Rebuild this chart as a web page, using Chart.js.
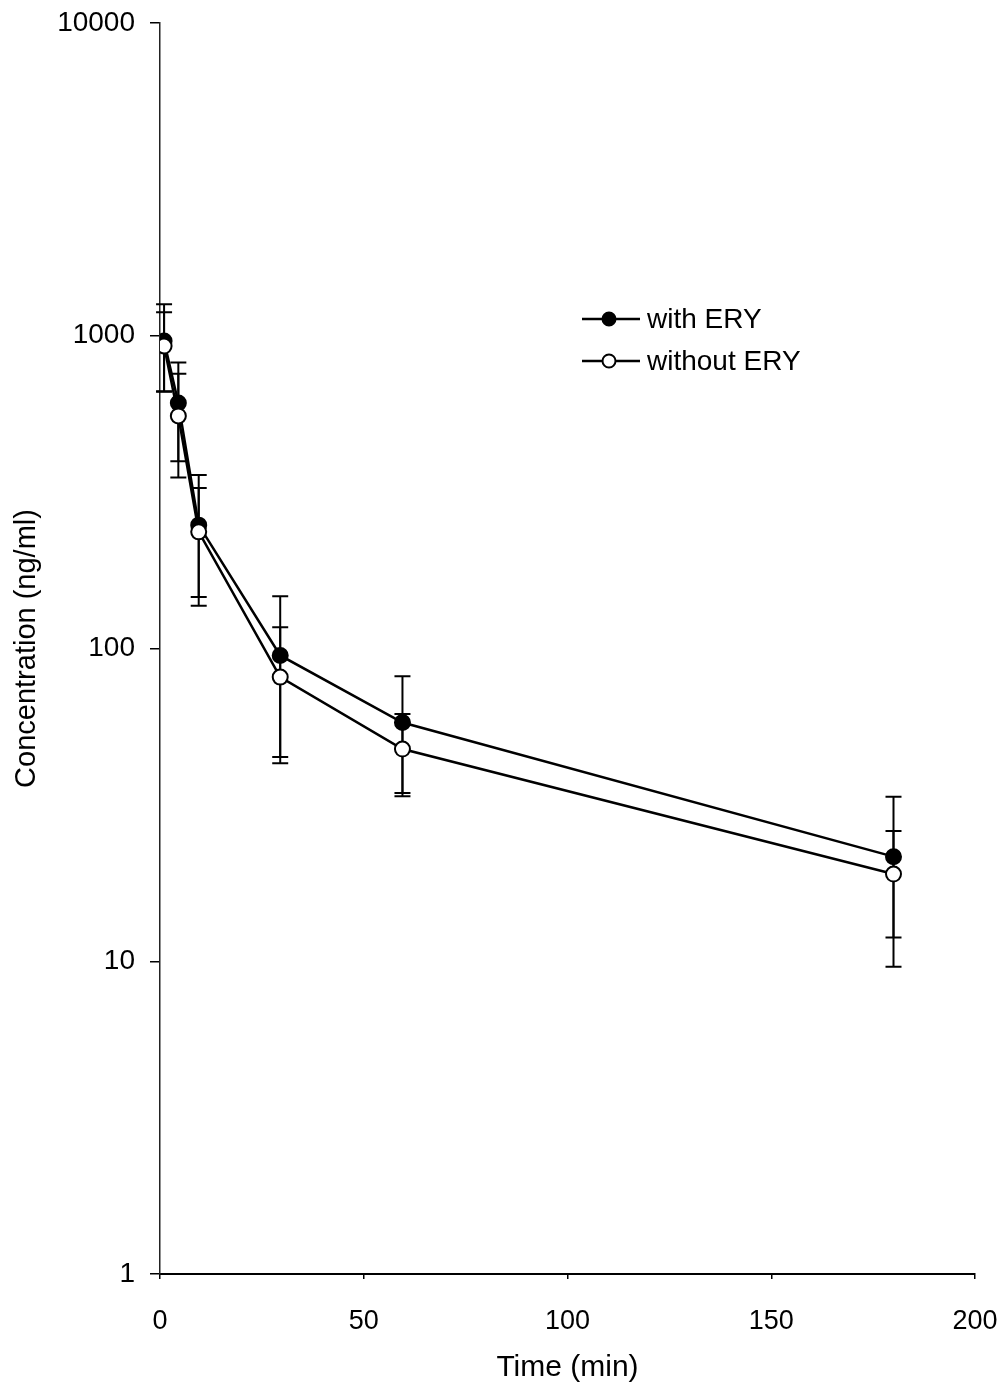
<!DOCTYPE html>
<html>
<head>
<meta charset="utf-8">
<script src="https://cdn.jsdelivr.net/npm/chart.js@4/dist/chart.umd.min.js"></script>
<style>
  html, body { margin: 0; padding: 0; background: #fff; }
  #wrap { width: 1005px; height: 1386px; }
</style>
</head>
<body>
<div id="wrap"><canvas id="c" width="1005" height="1386"></canvas></div>
<script>
// Sampling times (min)
const times = [1, 4.5, 9.5, 29.5, 59.5, 180];

// Mean concentration (ng/ml) and SD, with erythromycin
const withEry = [962, 609, 248, 95, 58, 21.6];
const withErySd = [300, 212, 111, 52, 23.5, 12];

// Mean concentration (ng/ml) and SD, without erythromycin
const withoutEry = [927, 554, 236, 81, 47.7, 19];
const withoutErySd = [262, 202, 90, 36, 14, 7.1];

const seriesLabels = ['with ERY', 'without ERY'];
const yTickValues = [1, 10, 100, 1000, 10000];
const xTickStep = 50;

const FONT = 'Liberation Sans, Arial, Helvetica, sans-serif';

function points(xs, ys) {
  return xs.map((x, i) => ({ x: x, y: ys[i] }));
}

// Vertical error bars (mean ± SD) with short horizontal caps
const errorBars = {
  id: 'errorBars',
  beforeDatasetsDraw(chart) {
    const ctx = chart.ctx;
    const xs = chart.scales.x, ys = chart.scales.y;
    const sets = [[withEry, withErySd], [withoutEry, withoutErySd]];
    ctx.save();
    ctx.strokeStyle = '#000';
    ctx.lineWidth = 2;
    const cap = 8;
    sets.forEach(([m, sd]) => {
      times.forEach((t, i) => {
        const px = xs.getPixelForValue(t);
        const hi = ys.getPixelForValue(m[i] + sd[i]);
        const lo = ys.getPixelForValue(Math.max(m[i] - sd[i], 1));
        ctx.beginPath();
        ctx.moveTo(px, hi); ctx.lineTo(px, lo);
        ctx.moveTo(px - cap, hi); ctx.lineTo(px + cap, hi);
        ctx.moveTo(px - cap, lo); ctx.lineTo(px + cap, lo);
        ctx.stroke();
      });
    });
    ctx.restore();
  }
};

// Legend drawn inside the plot area
const insideLegend = {
  id: 'insideLegend',
  afterDraw(chart) {
    const ctx = chart.ctx;
    const rows = [
      { y: 319, fill: '#000' },
      { y: 361, fill: '#fff' }
    ];
    ctx.save();
    rows.forEach((r, i) => {
      ctx.strokeStyle = '#000';
      ctx.lineWidth = 2.5;
      ctx.beginPath();
      ctx.moveTo(582, r.y); ctx.lineTo(640, r.y);
      ctx.stroke();
      ctx.beginPath();
      ctx.arc(609, r.y, 6.5, 0, Math.PI * 2);
      ctx.fillStyle = r.fill;
      ctx.fill();
      ctx.lineWidth = 2;
      ctx.stroke();
      ctx.fillStyle = '#000';
      ctx.font = '28px ' + FONT;
      ctx.textBaseline = 'middle';
      ctx.textAlign = 'left';
      ctx.fillText(seriesLabels[i], 647, r.y + 1);
    });
    ctx.restore();
  }
};

new Chart(document.getElementById('c'), {
  type: 'line',
  data: {
    datasets: [
      {
        label: seriesLabels[0],
        data: points(times, withEry),
        borderColor: '#000',
        borderWidth: 2.5,
        backgroundColor: '#000',
        pointBackgroundColor: '#000',
        pointBorderColor: '#000',
        pointBorderWidth: 2,
        pointRadius: 7.5,
        tension: 0,
        order: 2
      },
      {
        label: seriesLabels[1],
        data: points(times, withoutEry),
        borderColor: '#000',
        borderWidth: 2.5,
        backgroundColor: '#fff',
        pointBackgroundColor: '#fff',
        pointBorderColor: '#000',
        pointBorderWidth: 2,
        pointRadius: 7.5,
        tension: 0,
        order: 1
      }
    ]
  },
  options: {
    responsive: false,
    animation: false,
    devicePixelRatio: 1,
    layout: { padding: { top: 23, right: 30, left: 0, bottom: 0 } },
    plugins: {
      legend: { display: false },
      tooltip: { enabled: false }
    },
    scales: {
      x: {
        type: 'linear',
        min: 0,
        max: 200,
        border: { display: true, color: '#000', width: 2 },
        grid: { drawOnChartArea: false, drawTicks: true, tickLength: 5, color: '#000', lineWidth: 1.5 },
        ticks: {
          stepSize: xTickStep,
          color: '#000',
          padding: 26,
          font: { family: FONT, size: 27 }
        },
        title: {
          display: true,
          text: 'Time (min)',
          color: '#000',
          font: { family: FONT, size: 30 },
          padding: { top: 0, bottom: 0 }
        },
        afterFit(scale) {
          scale.height = 112;
          scale.paddingLeft = 0;
          scale.paddingRight = 0;
        }
      },
      y: {
        type: 'logarithmic',
        min: 1,
        max: 10000,
        border: { display: true, color: '#222', width: 1.5, dash: [6, 3] },
        grid: { drawOnChartArea: false, drawTicks: true, tickLength: 10, color: '#000', lineWidth: 1.5 },
        afterBuildTicks(scale) {
          scale.ticks = yTickValues.map(v => ({ value: v }));
        },
        ticks: {
          color: '#000',
          padding: 15,
          font: { family: FONT, size: 28 },
          callback: (v) => String(v)
        },
        title: {
          display: true,
          text: 'Concentration (ng/ml)',
          color: '#000',
          font: { family: FONT, size: 29 },
          padding: { top: 10, bottom: 0 }
        },
        afterFit(scale) {
          scale.width = 160;
          scale.paddingTop = 0;
          scale.paddingBottom = 0;
        }
      }
    }
  },
  plugins: [errorBars, insideLegend]
});
</script>
</body>
</html>
